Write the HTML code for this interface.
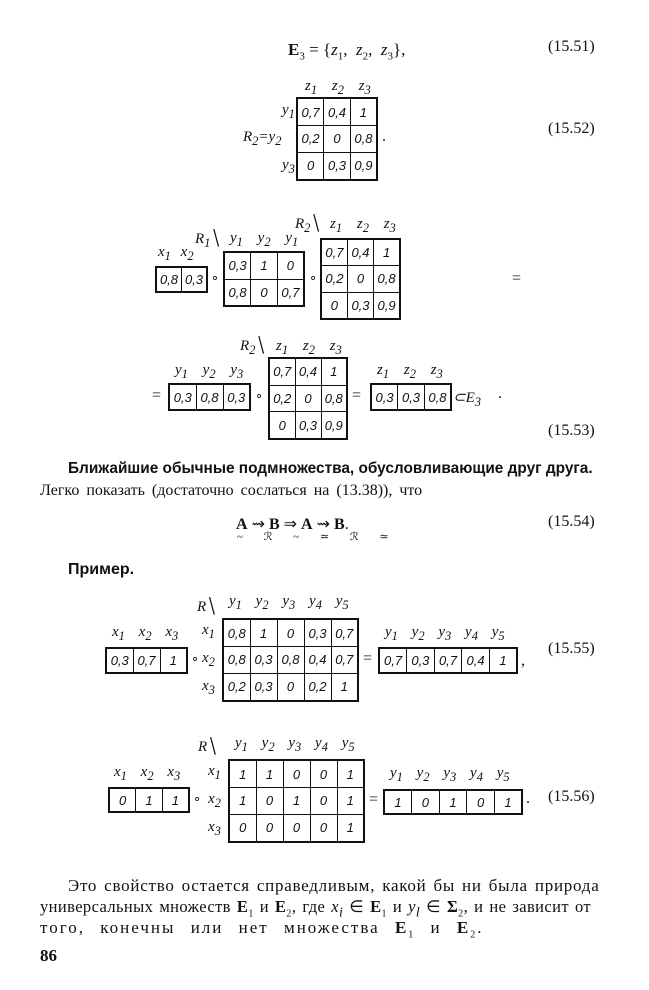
<!DOCTYPE html>
<html><head><meta charset="utf-8"><style>
body{margin:0;background:#fff;}
#p{position:relative;width:649px;height:990px;overflow:hidden;font-family:"Liberation Serif",serif;color:#111;}
table.g{position:absolute;border-collapse:collapse;border:2px solid #111;table-layout:fixed;}
table.g td{border:1.5px solid #111;padding:0;text-align:center;font:italic 13px "Liberation Sans",sans-serif;overflow:hidden;}
.l{position:absolute;font:italic 15px "Liberation Serif",serif;white-space:nowrap;}
.n{position:absolute;font-size:16px;}
.t{position:absolute;font-size:16px;white-space:nowrap;}
</style></head><body><div id="p">

<div class="t" style="left:288px;top:40px;font-size:17px"><b>E</b><sub style="font-size:11px">3</sub> = {<i>z</i><sub style="font-size:11px">1</sub>,&nbsp; <i>z</i><sub style="font-size:11px">2</sub>,&nbsp; <i>z</i><sub style="font-size:11px">3</sub>},</div>
<div class="n" style="left:548px;top:38px">(15.51)</div>

<div class="l" style="left:305px;top:78px;word-spacing:11px">z<sub>1</sub> z<sub>2</sub> z<sub>3</sub></div>
<div class="l" style="left:282px;top:102px">y<sub>1</sub></div>
<div class="l" style="left:243px;top:129px">R<sub>2</sub>=y<sub>2</sub></div>
<div class="l" style="left:282px;top:157px">y<sub>3</sub></div>
<table class="g" style="left:296px;top:97px;width:82px;height:84px"><tr><td>0,7</td><td>0,4</td><td>1</td></tr><tr><td>0,2</td><td>0</td><td>0,8</td></tr><tr><td>0</td><td>0,3</td><td>0,9</td></tr></table>
<div class="t" style="left:382px;top:128px">.</div>
<div class="n" style="left:548px;top:120px">(15.52)</div>

<div class="l" style="left:158px;top:244px;word-spacing:6px">x<sub>1</sub> x<sub>2</sub></div>
<table class="g" style="left:155px;top:266px;width:53px;height:27px"><tr><td>0,8</td><td>0,3</td></tr></table>
<div class="t" style="left:211px;top:270px;font-size:13px">∘</div>
<div class="l" style="left:195px;top:229px">R<sub>1</sub>╲</div>
<div class="l" style="left:230px;top:230px;word-spacing:11px">y<sub>1</sub> y<sub>2</sub> y<sub>1</sub></div>
<table class="g" style="left:223px;top:251px;width:82px;height:56px"><tr><td>0,3</td><td>1</td><td>0</td></tr><tr><td>0,8</td><td>0</td><td>0,7</td></tr></table>
<div class="t" style="left:309px;top:270px;font-size:13px">∘</div>
<div class="l" style="left:295px;top:214px">R<sub>2</sub>╲</div>
<div class="l" style="left:330px;top:216px;word-spacing:11px">z<sub>1</sub> z<sub>2</sub> z<sub>3</sub></div>
<table class="g" style="left:320px;top:238px;width:81px;height:82px"><tr><td>0,7</td><td>0,4</td><td>1</td></tr><tr><td>0,2</td><td>0</td><td>0,8</td></tr><tr><td>0</td><td>0,3</td><td>0,9</td></tr></table>
<div class="t" style="left:512px;top:270px">=</div>

<div class="t" style="left:152px;top:387px">=</div>
<div class="l" style="left:175px;top:362px;word-spacing:11px">y<sub>1</sub> y<sub>2</sub> y<sub>3</sub></div>
<table class="g" style="left:168px;top:383px;width:83px;height:28px"><tr><td>0,3</td><td>0,8</td><td>0,3</td></tr></table>
<div class="t" style="left:255px;top:388px;font-size:13px">∘</div>
<div class="l" style="left:240px;top:336px">R<sub>2</sub>╲</div>
<div class="l" style="left:276px;top:338px;word-spacing:11px">z<sub>1</sub> z<sub>2</sub> z<sub>3</sub></div>
<table class="g" style="left:268px;top:357px;width:80px;height:83px"><tr><td>0,7</td><td>0,4</td><td>1</td></tr><tr><td>0,2</td><td>0</td><td>0,8</td></tr><tr><td>0</td><td>0,3</td><td>0,9</td></tr></table>
<div class="t" style="left:352px;top:387px">=</div>
<div class="l" style="left:377px;top:362px;word-spacing:11px">z<sub>1</sub> z<sub>2</sub> z<sub>3</sub></div>
<table class="g" style="left:370px;top:383px;width:82px;height:28px"><tr><td>0,3</td><td>0,3</td><td>0,8</td></tr></table>
<div class="l" style="left:453px;top:388px">⊂E<sub>3</sub></div>
<div class="t" style="left:498px;top:385px">.</div>
<div class="n" style="left:548px;top:422px">(15.53)</div>

<div class="t" style="left:68px;top:460px;font-family:'Liberation Sans',sans-serif;font-weight:bold;font-size:15.4px">Ближайшие обычные подмножества, обусловливающие друг друга.</div>
<div class="t" style="left:40px;top:482px;word-spacing:3px;font-size:16px">Легко показать (достаточно сослаться на (13.38)), что</div>
<div class="t" style="left:236px;top:514px;font-size:16px"><b>A</b> ⇝ <b>B</b> ⇒ <b>A</b> ⇝ <b>B</b>.</div>
<div class="t" style="left:237px;top:530px;font-size:11px;word-spacing:18px">~ ℛ ~ ≃ ℛ ≃</div>
<div class="n" style="left:548px;top:513px">(15.54)</div>
<div class="t" style="left:68px;top:561px;font-weight:bold;font-family:'Liberation Sans',sans-serif">Пример.</div>

<div class="l" style="left:112px;top:624px;word-spacing:10px">x<sub>1</sub> x<sub>2</sub> x<sub>3</sub></div>
<table class="g" style="left:105px;top:647px;width:83px;height:27px"><tr><td>0,3</td><td>0,7</td><td>1</td></tr></table>
<div class="t" style="left:191px;top:651px;font-size:13px">∘</div>
<div class="l" style="left:197px;top:597px">R╲</div>
<div class="l" style="left:229px;top:593px;word-spacing:10px">y<sub>1</sub> y<sub>2</sub> y<sub>3</sub> y<sub>4</sub> y<sub>5</sub></div>
<div class="l" style="left:202px;top:622px">x<sub>1</sub></div>
<div class="l" style="left:202px;top:650px">x<sub>2</sub></div>
<div class="l" style="left:202px;top:678px">x<sub>3</sub></div>
<table class="g" style="left:222px;top:618px;width:137px;height:84px"><tr><td>0,8</td><td>1</td><td>0</td><td>0,3</td><td>0,7</td></tr><tr><td>0,8</td><td>0,3</td><td>0,8</td><td>0,4</td><td>0,7</td></tr><tr><td>0,2</td><td>0,3</td><td>0</td><td>0,2</td><td>1</td></tr></table>
<div class="t" style="left:363px;top:650px">=</div>
<div class="l" style="left:385px;top:624px;word-spacing:10px">y<sub>1</sub> y<sub>2</sub> y<sub>3</sub> y<sub>4</sub> y<sub>5</sub></div>
<table class="g" style="left:378px;top:647px;width:140px;height:27px"><tr><td>0,7</td><td>0,3</td><td>0,7</td><td>0,4</td><td>1</td></tr></table>
<div class="t" style="left:521px;top:652px">,</div>
<div class="n" style="left:548px;top:640px">(15.55)</div>

<div class="l" style="left:114px;top:764px;word-spacing:10px">x<sub>1</sub> x<sub>2</sub> x<sub>3</sub></div>
<table class="g" style="left:108px;top:787px;width:82px;height:26px"><tr><td>0</td><td>1</td><td>1</td></tr></table>
<div class="t" style="left:193px;top:791px;font-size:13px">∘</div>
<div class="l" style="left:198px;top:737px">R╲</div>
<div class="l" style="left:235px;top:735px;word-spacing:10px">y<sub>1</sub> y<sub>2</sub> y<sub>3</sub> y<sub>4</sub> y<sub>5</sub></div>
<div class="l" style="left:208px;top:763px">x<sub>1</sub></div>
<div class="l" style="left:208px;top:791px">x<sub>2</sub></div>
<div class="l" style="left:208px;top:819px">x<sub>3</sub></div>
<table class="g" style="left:228px;top:759px;width:137px;height:84px"><tr><td>1</td><td>1</td><td>0</td><td>0</td><td>1</td></tr><tr><td>1</td><td>0</td><td>1</td><td>0</td><td>1</td></tr><tr><td>0</td><td>0</td><td>0</td><td>0</td><td>1</td></tr></table>
<div class="t" style="left:369px;top:791px">=</div>
<div class="l" style="left:390px;top:765px;word-spacing:10px">y<sub>1</sub> y<sub>2</sub> y<sub>3</sub> y<sub>4</sub> y<sub>5</sub></div>
<table class="g" style="left:383px;top:789px;width:140px;height:26px"><tr><td>1</td><td>0</td><td>1</td><td>0</td><td>1</td></tr></table>
<div class="t" style="left:526px;top:790px">.</div>
<div class="n" style="left:548px;top:788px">(15.56)</div>

<div class="t" style="left:68px;top:876px;word-spacing:2px;font-size:17px;letter-spacing:0.75px">Это свойство остается справедливым, какой бы ни была природа</div>
<div class="t" style="left:40px;top:897px;font-size:16.5px;letter-spacing:0.4px;word-spacing:1.5px">универсальных множеств <b>E</b><sub style="font-size:10px">1</sub> и <b>E</b><sub style="font-size:10px">2</sub>, где <i>x<sub>i</sub></i> ∈ <b>E</b><sub style="font-size:10px">1</sub> и <i>y<sub>l</sub></i> ∈ <b>Σ</b><sub style="font-size:10px">2</sub>, и не зависит от</div>
<div class="t" style="left:40px;top:918px;word-spacing:9px;font-size:17px;letter-spacing:2px">того, конечны или нет множества <b>E</b><sub style="font-size:10px">1</sub> и <b>E</b><sub style="font-size:10px">2</sub>.</div>
<div class="t" style="left:40px;top:946px;font-weight:bold;font-size:17px">86</div>
</div></body></html>
